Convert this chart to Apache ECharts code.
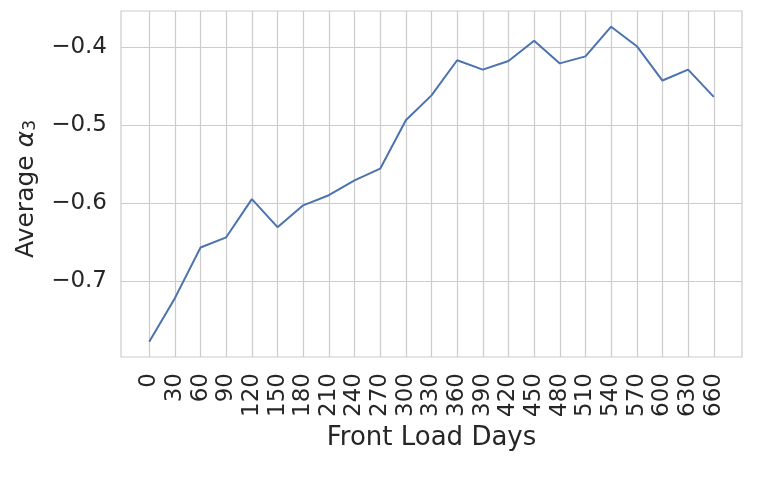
<!DOCTYPE html>
<html>
<head>
<meta charset="utf-8">
<script src="https://cdn.jsdelivr.net/npm/echarts@6/dist/echarts.min.js"></script>
<style>
html,body{margin:0;padding:0;background:#fff;}
#chart{width:777px;height:480px;}
</style>
</head>
<body>
<div id="chart"></div>
<script>
// Data
var frontLoadDays = [0, 30, 60, 90, 120, 150, 180, 210, 240, 270, 300, 330, 360, 390, 420, 450, 480, 510, 540, 570, 600, 630, 660];
var avgAlpha3 = [-0.778, -0.722, -0.657, -0.644, -0.595, -0.631, -0.603, -0.590, -0.571, -0.556, -0.494, -0.462, -0.417, -0.429, -0.418, -0.392, -0.421, -0.412, -0.374, -0.399, -0.443, -0.429, -0.464];
var yTicks = [-0.7, -0.6, -0.5, -0.4];
var xAxisTitle = 'Front Load Days';

var points = frontLoadDays.map(function (d, i) { return [d, avgAlpha3[i]]; });

var textColor = '#262626';
var gridColor = '#cccccc';
var font = 'DejaVu Sans';

var chart = echarts.init(document.getElementById('chart'), null, {renderer: 'canvas'});
chart.setOption({
  animation: false,
  backgroundColor: '#ffffff',
  grid: {
    left: 121, top: 11, width: 621, height: 346,
    show: true, borderColor: gridColor, borderWidth: 1.2, backgroundColor: 'transparent'
  },
  xAxis: {
    type: 'value',
    min: -33, max: 693,
    name: xAxisTitle,
    nameLocation: 'middle',
    nameGap: 60,
    nameTextStyle: {fontFamily: font, fontSize: 26, color: textColor},
    axisLine: {show: false},
    axisTick: {show: false, customValues: frontLoadDays},
    axisLabel: {
      customValues: frontLoadDays,
      rotate: 90, margin: 16,
      fontFamily: font, fontSize: 23, color: textColor,
      formatter: function (v) { return String(v); }
    },
    splitLine: {show: true, lineStyle: {color: gridColor, width: 1.2}}
  },
  yAxis: {
    type: 'value',
    min: -0.79744, max: -0.35385,
    name: 'Average {a|α}{b|3}',
    nameLocation: 'middle',
    nameGap: 82,
    nameTextStyle: {
      fontFamily: font, fontSize: 25, color: textColor,
      padding: [0, 10, 0, 0],
      rich: {
        a: {fontFamily: font, fontSize: 25, fontStyle: 'italic', color: textColor},
        b: {fontFamily: font, fontSize: 17, color: textColor, verticalAlign: 'bottom', lineHeight: 22}
      }
    },
    axisLine: {show: false},
    axisTick: {show: false, customValues: yTicks},
    axisLabel: {
      customValues: yTicks,
      margin: 14,
      fontFamily: font, fontSize: 23, color: textColor,
      formatter: function (v) { return (v < 0 ? '\u2212' : '') + Math.abs(v).toFixed(1); }
    },
    splitLine: {show: true, lineStyle: {color: gridColor, width: 1.2}}
  },
  series: [{
    type: 'line',
    data: points,
    showSymbol: false,
    symbol: 'none',
    lineStyle: {color: '#4c72b0', width: 2},
    itemStyle: {color: '#4c72b0'}
  }]
});
</script>
</body>
</html>
